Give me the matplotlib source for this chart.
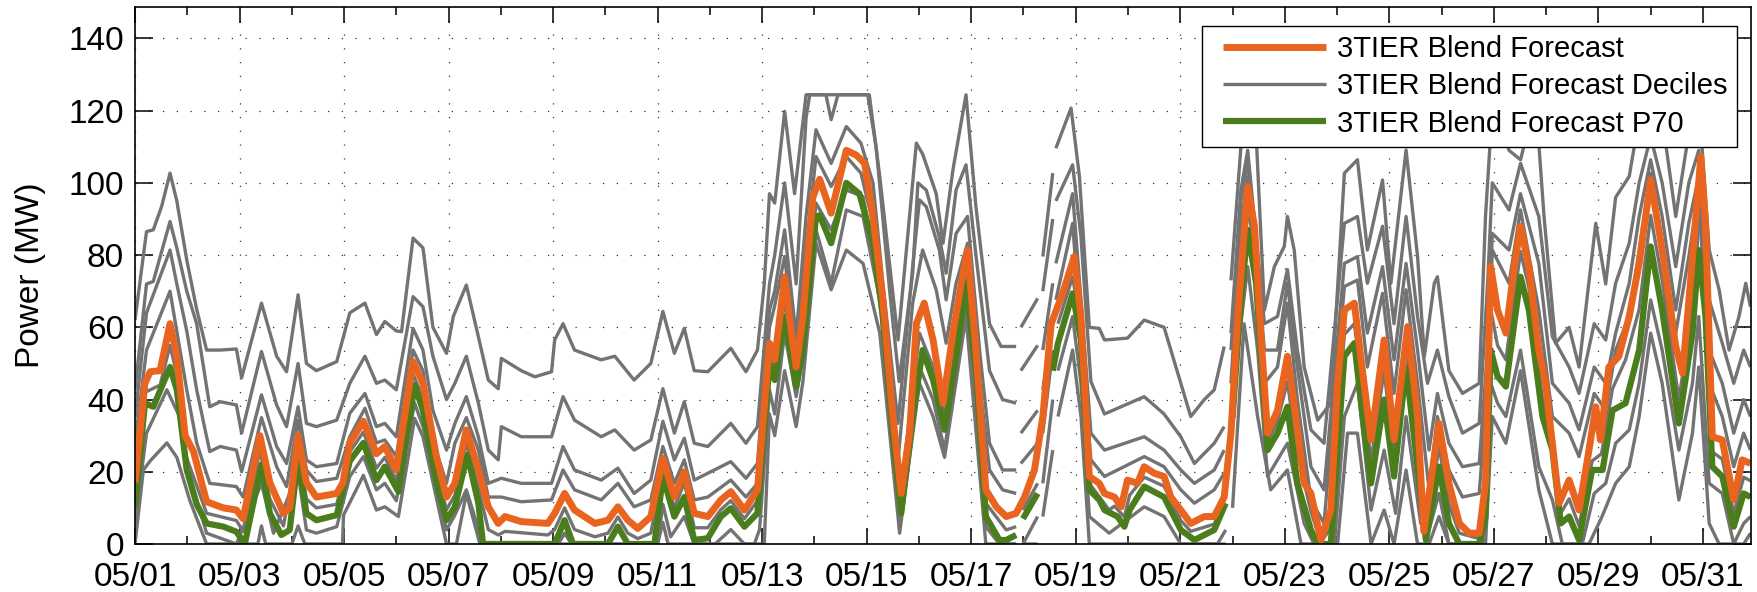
import numpy as np
import matplotlib
matplotlib.use('Agg')
import matplotlib.pyplot as plt
import matplotlib.dates as mdates
from matplotlib.legend_handler import HandlerLine2D
from datetime import datetime

plt.rcParams['font.family'] = ['Liberation Sans', 'DejaVu Sans']

# pontos: (dias desde 05/01 00:00, MW); None = falha nos dados
blend = [(0.0, 17), (0.19, 44.5), (0.29, 47.7), (0.48, 48), (0.67, 61), (0.80, 52), (0.96, 30), (1.12, 25.6),
         (1.37, 11.7), (1.69, 10), (1.94, 9.4), (2.07, 7), (2.39, 30), (2.58, 17), (2.84, 8.5), (2.96, 10),
         (3.12, 30), (3.28, 17), (3.47, 13), (3.86, 14), (3.98, 17), (4.11, 28), (4.37, 34), (4.62, 25),
         (4.78, 27), (5.0, 20.5), (5.32, 50.5), (5.51, 44.5), (5.77, 24), (5.96, 13), (6.12, 16.8), (6.34, 31.6),
         (6.57, 20.5), (6.76, 10.3), (6.95, 5.7), (7.08, 7.6), (7.39, 6.2), (7.90, 5.7), (8.03, 8.5), (8.22, 14),
         (8.41, 9.4), (8.80, 5.7), (9.05, 6.6), (9.24, 10.3), (9.43, 6.6), (9.62, 4.3), (9.87, 7.6), (10.10, 23.7),
         (10.32, 13), (10.51, 20), (10.70, 8.5), (10.96, 7.6), (11.21, 12.2), (11.40, 14.5), (11.66, 9.4),
         (11.91, 15), (12.14, 55.6), (12.24, 51), (12.43, 74), (12.52, 63), (12.65, 49), (12.78, 63), (12.97, 96),
         (13.10, 101), (13.32, 91.6), (13.61, 109), (13.80, 107.7), (13.96, 105.4), (14.12, 90.7), (14.31, 67.6),
         (14.5, 35.3), (14.66, 14), (14.82, 30.7), (14.95, 61), (15.1, 66.7), (15.27, 56.5), (15.46, 39),
         (15.65, 58.4), (15.81, 72.2), (15.93, 81.4), (16.09, 53.7), (16.28, 15), (16.48, 10.3), (16.67, 7.6),
         (16.86, 8.5), (17.02, 13), (17.21, 20.5), (17.37, 35.3), (17.53, 61), (17.75, 69.4), (17.97, 79.6),
         (18.10, 63), (18.26, 18.7), (18.45, 16.8), (18.55, 14), (18.74, 13), (18.87, 10.3), (18.99, 17.7),
         (19.18, 16.8), (19.31, 21.4), (19.50, 19.6), (19.69, 18.7), (19.82, 13), (20.01, 9.4), (20.20, 5.7),
         (20.46, 7.6), (20.65, 7.6), (20.84, 13), (20.97, 30.7), (21.10, 63), (21.29, 99), (21.42, 88),
         (21.54, 58.4), (21.67, 30.7), (21.86, 37), (22.05, 52), (22.21, 35.3), (22.37, 16.8), (22.50, 14),
         (22.69, 1.1), (22.88, 9.4), (23.01, 44.5), (23.14, 64.8), (23.33, 66.7), (23.46, 51), (23.65, 28.8),
         (23.90, 56.5), (24.09, 28.8), (24.35, 60.2), (24.54, 35.3), (24.66, 3.5), (24.80, 18), (24.95, 33.4),
         (25.14, 16.8), (25.34, 5.7), (25.53, 3), (25.72, 3), (25.84, 16.8), (25.94, 76.8), (26.07, 64.8),
         (26.23, 58.4), (26.39, 76.8), (26.51, 88), (26.67, 76.8), (26.86, 53.7), (26.99, 44.5), (27.06, 35.3),
         (27.25, 11.3), (27.44, 17.7), (27.63, 9.4), (27.82, 26), (27.95, 38), (28.04, 28.8), (28.20, 49),
         (28.39, 51.9), (28.59, 63), (28.78, 77.7), (29.0, 100.8), (29.22, 81.4), (29.48, 54.7), (29.61, 47.3),
         (29.76, 72.2), (29.96, 107.3), (30.05, 88.8), (30.18, 29.7), (30.37, 28.8), (30.59, 12.2), (30.75, 23.3),
         (30.91, 22.3)]

p70 = [(0.0, 10.3), (0.19, 39), (0.35, 38), (0.67, 49), (0.80, 42.7), (0.99, 20.5), (1.18, 11), (1.37, 5.7),
       (1.69, 4.8), (1.94, 3.4), (2.10, 0), (2.42, 22), (2.58, 8.5), (2.80, 2.5), (2.96, 3.9), (3.12, 24),
       (3.28, 8.5), (3.47, 6.6), (3.86, 8), (4.11, 23), (4.37, 28), (4.62, 17.7), (4.78, 21.4), (5.04, 14.5),
       (5.35, 44), (5.51, 37), (5.77, 17), (5.96, 6.6), (6.12, 10.3), (6.36, 24.7), (6.57, 11.3), (6.66, 0),
       (8.03, 0), (8.22, 6.6), (8.38, 0), (9.05, 0), (9.24, 4.8), (9.43, 0), (9.94, 0), (10.10, 18.7),
       (10.32, 7.6), (10.51, 13), (10.70, 1.1), (10.96, 1.6), (11.21, 7.6), (11.40, 9.9), (11.66, 4.8),
       (11.91, 8.5), (12.14, 50), (12.24, 45.4), (12.43, 63), (12.65, 43.6), (12.78, 53.7), (13.03, 90.7),
       (13.10, 91), (13.32, 83.3), (13.61, 100), (13.86, 97), (14.12, 83.3), (14.31, 63), (14.5, 30.7),
       (14.66, 8.5), (14.88, 35), (15.07, 53.7), (15.27, 45.4), (15.49, 31.6), (15.71, 51.9), (15.90, 72.2),
       (16.09, 48), (16.28, 7.6), (16.54, 1.1), (16.67, 1.1), (16.86, 2.5), None, (16.99, 7), (17.27, 14), None,
       (17.56, 48), (17.66, 55.6), (17.94, 69.4), (18.10, 56.5), (18.26, 15), (18.45, 12.2), (18.55, 9.4),
       (18.80, 7.6), (18.93, 4.8), (19.03, 9.4), (19.31, 15.9), (19.69, 13), (20.01, 3.9), (20.27, 1.1),
       (20.65, 3.9), (20.87, 11.3), None, (21.0, 35), (21.16, 67.6), (21.29, 87), (21.45, 72.2), (21.67, 26),
       (21.86, 30.7), (22.05, 38), (22.24, 16.8), (22.50, 3.9), (22.63, 0), (22.88, 0), (23.01, 26), (23.14, 52),
       (23.33, 55.6), (23.49, 35.3), (23.65, 16.8), (23.90, 40), (24.09, 18.7), (24.32, 49), (24.54, 21.4),
       (24.70, 1.1), (24.95, 21.4), (25.14, 5.7), (25.34, 0), (25.72, 0), (25.84, 7.6), (25.94, 53.7),
       (26.07, 46.4), (26.23, 43.6), (26.51, 74), (26.67, 64.8), (26.93, 35.3), (27.12, 26), (27.28, 5.7),
       (27.44, 7.6), (27.63, 1.1), (27.88, 20.5), (28.08, 20.5), (28.27, 37), (28.52, 39), (28.78, 53.7),
       (29.0, 82.4), (29.22, 64.8), (29.54, 33.4), (29.80, 58.4), (29.92, 81.4), (30.05, 63), (30.18, 21.4),
       (30.37, 18.7), (30.59, 4.8), (30.78, 14), (30.91, 13)]

p10 = [(0.0, 62), (0.22, 86.5), (0.35, 87), (0.51, 93.5), (0.67, 102.7), (0.80, 95), (0.99, 78.7), (1.18, 65),
       (1.37, 53.7), (1.63, 53.7), (1.94, 54), (2.04, 46), (2.42, 66.7), (2.71, 52), (2.90, 47.7), (3.12, 69),
       (3.28, 50), (3.47, 48), (3.86, 50.5), (4.11, 64), (4.40, 66.7), (4.62, 58), (4.78, 61.6), (5.0, 59),
       (5.10, 58.8), (5.32, 84.7), (5.51, 82), (5.70, 60), (5.96, 52.8), (6.09, 63), (6.34, 71.7), (6.57, 57.4),
       (6.76, 45.4), (6.95, 43), (7.01, 51.4), (7.39, 48), (7.65, 46.3), (7.97, 47.7), (8.03, 56.5), (8.19, 61),
       (8.41, 53.7), (8.92, 51), (9.18, 52), (9.55, 45.4), (9.87, 50), (10.10, 64.4), (10.32, 52.8),
       (10.51, 59.7), (10.70, 48), (10.96, 47.7), (11.40, 54.2), (11.69, 47.7), (11.91, 53.7), (12.04, 72),
       (12.14, 97), (12.24, 94.4), (12.43, 119.8), (12.62, 97), (12.84, 124.4), (14.05, 124.4), (14.25, 101.8),
       (14.60, 56.5), (14.95, 111), (15.07, 108), (15.33, 97), (15.46, 83.3), (15.65, 103.6), (15.90, 124.4),
       (16.09, 93.4), (16.35, 61), (16.57, 54.7), (16.86, 54.7), None, (16.95, 60), (17.27, 68), None,
       (17.37, 79.6), (17.56, 102.7), None, (17.62, 109.6), (17.91, 120.7), (18.07, 101.8), (18.26, 60),
       (18.45, 59.7), (18.55, 56.5), (18.99, 57), (19.31, 62), (19.69, 60), (20.01, 44.5), (20.20, 35.3),
       (20.46, 40), (20.65, 42.7), (20.84, 54.7), None, (20.97, 73), (21.16, 110), (21.29, 123), (21.45, 113.8),
       (21.61, 64.8), (21.80, 76.8), (21.99, 82.4), (22.05, 90.7), (22.18, 81.4), (22.37, 49), (22.63, 34.3),
       (22.88, 39), (23.14, 102.7), (23.39, 106.4), (23.58, 81.4), (23.87, 100.8), (24.03, 72.2), (24.32, 109.1),
       (24.54, 79.6), (24.67, 51.9), (24.86, 72.2), (24.92, 74), (25.14, 48), (25.40, 41.7), (25.72, 44.5),
       (25.84, 90.7), (25.94, 113.8), (26.04, 123), (26.29, 109), (26.51, 106.4), (26.80, 123), (26.96, 90.7),
       (27.18, 55.6), (27.44, 60), (27.63, 49), (27.95, 88.8), (28.14, 72), (28.33, 96), (28.59, 101.8),
       (28.78, 118), (29.0, 124.4), (29.22, 118), (29.48, 90.7), (29.73, 113.8), (29.92, 123), (30.12, 81.4),
       (30.31, 70.4), (30.50, 53.7), (30.69, 63), (30.82, 72.2), (30.91, 65.7)]

p20 = [(0.0, 42.7), (0.22, 72), (0.35, 72.7), (0.67, 89.3), (0.80, 82), (0.99, 70), (1.18, 61), (1.43, 38),
       (1.63, 39.4), (1.94, 38.5), (2.04, 30.7), (2.42, 53.3), (2.71, 38.5), (2.90, 32.5), (3.12, 50),
       (3.28, 33.4), (3.47, 32.5), (3.86, 34.3), (4.11, 44.5), (4.40, 52), (4.62, 44.5), (4.78, 45.4),
       (5.0, 42.7), (5.32, 68.5), (5.51, 65.7), (5.70, 52), (5.96, 40), (6.12, 44.5), (6.34, 52), (6.57, 39),
       (6.76, 26), (6.95, 23.3), (7.01, 32.5), (7.39, 29.7), (7.97, 29.7), (8.19, 40.8), (8.41, 34.3),
       (8.92, 29.7), (9.18, 31.6), (9.55, 26), (9.87, 28.8), (10.10, 43), (10.32, 30.7), (10.51, 39.4),
       (10.70, 27.9), (10.96, 27), (11.40, 33.4), (11.69, 27.9), (11.91, 32.5), (12.14, 72), (12.24, 80),
       (12.43, 100), (12.65, 72), (12.84, 118), (12.91, 124.4), (13.22, 124.4), (13.32, 117.5), (13.45, 124.4),
       (14.02, 124.4), (14.18, 110), (14.44, 70), (14.62, 45), (14.88, 75), (14.98, 100), (15.14, 98),
       (15.39, 85), (15.52, 75), (15.71, 98), (15.90, 105), (16.09, 80), (16.35, 48), (16.60, 40), (16.86, 39),
       None, (16.95, 48), (17.27, 55), None, (17.37, 70), (17.56, 90), None, (17.62, 95), (17.94, 105),
       (18.10, 85), (18.29, 45), (18.55, 36), (19.31, 40.8), (19.69, 36), (20.01, 29.7), (20.27, 22.3),
       (20.65, 27.9), (20.84, 32.5), None, (20.97, 58.4), (21.16, 98), (21.29, 109), (21.61, 61), (21.86, 63),
       (22.05, 76), (22.24, 53.7), (22.50, 31.6), (22.75, 27.9), (23.14, 88.8), (23.39, 90.7), (23.58, 72.2),
       (23.87, 88), (24.09, 61), (24.32, 90.7), (24.54, 63), (24.73, 44.5), (24.92, 53.7), (25.14, 40.8),
       (25.40, 30.7), (25.72, 33.4), (25.88, 72.2), (25.97, 100), (26.29, 92.5), (26.51, 105.4), (26.86, 90.7),
       (27.12, 57.4), (27.44, 49), (27.63, 41.7), (27.92, 61), (28.14, 56.5), (28.33, 72.2), (28.59, 83.3),
       (28.78, 100), (29.0, 112.8), (29.22, 100), (29.48, 76.8), (29.73, 100), (29.92, 109), (30.12, 67.6),
       (30.37, 55.6), (30.59, 44.5), (30.78, 53.7), (30.91, 49)]

p30 = [(0.0, 35), (0.22, 64), (0.67, 81.4), (0.80, 72), (0.99, 59), (1.18, 42.7), (1.43, 25.6), (1.63, 27),
       (1.94, 26), (2.04, 20), (2.42, 41.3), (2.71, 27), (2.90, 22.3), (3.12, 38), (3.28, 23.3), (3.47, 21.4),
       (3.86, 22.3), (4.11, 36.2), (4.40, 41.7), (4.62, 32.5), (4.78, 33.4), (5.0, 29.7), (5.32, 59.7),
       (5.51, 53.7), (5.70, 37), (5.96, 26), (6.12, 33.4), (6.34, 40.8), (6.57, 29.7), (6.76, 16.8),
       (7.01, 18.2), (7.39, 16.8), (7.97, 16.8), (8.19, 27), (8.41, 20.5), (8.92, 17.7), (9.24, 21), (9.55, 14),
       (9.87, 17.7), (10.10, 34), (10.32, 23.3), (10.51, 29.3), (10.70, 17.7), (10.96, 19.6), (11.40, 22.8),
       (11.69, 18.2), (11.91, 22.3), (12.14, 64.8), (12.24, 70), (12.43, 87), (12.65, 57.4), (12.84, 90.7),
       (13.03, 114.7), (13.32, 105.4), (13.61, 115.6), (13.89, 111), (14.12, 100), (14.31, 72.2), (14.60, 33.4),
       (14.88, 76.8), (15.01, 95.3), (15.14, 93.4), (15.39, 81.4), (15.52, 67.6), (15.71, 86), (15.93, 90.7),
       (16.16, 53.7), (16.35, 27.9), (16.60, 20.5), (16.86, 20.5), None, (16.95, 30.7), (17.27, 37), None,
       (17.37, 53.7), (17.56, 72.2), None, (17.62, 77.7), (17.94, 97), (18.10, 67.6), (18.29, 30.7),
       (18.55, 26), (19.31, 29.7), (19.69, 26), (20.01, 20.5), (20.27, 16.8), (20.65, 20.5), (20.84, 26), None,
       (20.97, 53.7), (21.16, 95.3), (21.29, 106.4), (21.61, 53.7), (21.86, 53.7), (22.05, 72.2), (22.24, 49),
       (22.50, 21.4), (22.75, 15), (23.14, 77.7), (23.39, 79.6), (23.58, 58.4), (23.87, 76.8), (24.09, 51),
       (24.32, 77.7), (24.54, 53.7), (24.76, 26), (24.92, 41.7), (25.14, 27.9), (25.40, 21.4), (25.72, 22.3),
       (25.88, 53.7), (25.97, 86), (26.29, 81.4), (26.51, 97), (26.86, 77.7), (27.12, 44.5), (27.44, 39),
       (27.63, 31.6), (27.92, 49), (28.14, 44.5), (28.33, 58.4), (28.59, 72.2), (28.78, 90.7), (29.0, 106.4),
       (29.22, 90.7), (29.48, 64.8), (29.73, 88.8), (29.92, 101.8), (30.12, 53.7), (30.37, 44.5), (30.59, 30.7),
       (30.78, 40), (30.91, 35.3)]

p40 = [(0.0, 28), (0.22, 53.7), (0.67, 70), (0.99, 42.7), (1.18, 28), (1.43, 16.8), (1.94, 15.9), (2.07, 13),
       (2.42, 35), (2.71, 21.4), (2.90, 15.9), (3.12, 34.3), (3.28, 20.5), (3.47, 17.3), (3.86, 18.2),
       (4.11, 29.7), (4.40, 37.6), (4.62, 28), (4.78, 28.8), (5.0, 24.2), (5.32, 53.7), (5.51, 48), (5.70, 28.8),
       (5.96, 16.8), (6.12, 27.9), (6.34, 35), (6.57, 26), (6.76, 13), (7.01, 13), (7.39, 11.7), (7.97, 12.2),
       (8.19, 20.5), (8.41, 15), (8.92, 12.2), (9.24, 16.8), (9.55, 10.3), (9.87, 12.2), (10.10, 27),
       (10.32, 16.8), (10.51, 23.3), (10.70, 12.2), (10.96, 13), (11.40, 17.7), (11.69, 13), (11.91, 16.8),
       (12.14, 60), (12.24, 66), (12.43, 79.6), (12.65, 51.9), (12.84, 81.4), (13.03, 107.3), (13.32, 99),
       (13.61, 107.3), (13.89, 102.7), (14.12, 88.8), (14.34, 58.4), (14.60, 23.3), (14.88, 66.7), (15.07, 81.4),
       (15.33, 70.4), (15.52, 55.6), (15.71, 72.2), (15.93, 83.3), (16.16, 44.5), (16.35, 20.5), (16.60, 15),
       (16.86, 14), None, (16.95, 22.3), (17.27, 27.9), None, (17.37, 42.7), (17.56, 61), None, (17.62, 67.6),
       (17.94, 88.8), (18.10, 58.4), (18.29, 23.3), (18.55, 18.7), (19.31, 24.2), (19.69, 21.4), (20.01, 15),
       (20.27, 11.3), (20.65, 15), (20.84, 19.6), None, (20.97, 44.5), (21.16, 88.8), (21.29, 101.8),
       (21.61, 44.5), (21.86, 49), (22.05, 66.7), (22.24, 40), (22.50, 12.2), (22.75, 5.7), (23.14, 71.3),
       (23.39, 73.1), (23.58, 49), (23.87, 69.4), (24.09, 41.7), (24.32, 70.4), (24.54, 44.5), (24.76, 15),
       (24.92, 35.3), (25.14, 20.5), (25.40, 13), (25.72, 14), (25.88, 44.5), (25.97, 81.4), (26.29, 72.2),
       (26.51, 92.5), (26.86, 64.8), (27.12, 35.3), (27.44, 30.7), (27.63, 24.2), (27.92, 41.7), (28.14, 37),
       (28.33, 53.7), (28.59, 63), (28.78, 81.4), (29.0, 102.7), (29.22, 83.3), (29.48, 58.4), (29.73, 79.6),
       (29.92, 98), (30.12, 44.5), (30.37, 35.3), (30.59, 21.4), (30.78, 30.7), (30.91, 26)]

p60 = [(0.0, 13), (0.19, 42), (0.48, 44), (0.67, 55), (0.80, 47), (0.96, 25), (1.37, 8.5), (1.94, 6.5),
       (2.07, 3.5), (2.39, 26), (2.58, 12.5), (2.84, 5), (3.12, 27), (3.28, 12.5), (3.47, 10), (3.86, 11),
       (4.11, 25.5), (4.37, 31), (4.62, 21), (4.78, 24), (5.0, 17.5), (5.32, 47), (5.51, 40.5), (5.77, 20),
       (5.96, 9.5), (6.12, 13.5), (6.34, 28), (6.57, 15.5), (6.76, 4), (6.95, 2.5), (7.08, 3.5), (7.9, 2.5),
       (8.03, 4), (8.22, 10), (8.41, 4), (8.8, 2), (9.05, 3), (9.24, 7.5), (9.43, 3), (9.62, 1.5), (9.87, 3),
       (10.10, 21), (10.32, 10), (10.51, 17), (10.70, 4.5), (10.96, 4.5), (11.21, 9.5), (11.40, 12), (11.66, 7),
       (11.91, 12), (12.14, 53), (12.24, 48), (12.43, 67.6), (12.65, 46.4), (12.78, 58), (13.03, 94.4),
       (13.32, 87), (13.61, 98), (13.93, 96.2), (14.25, 72.2), (14.63, 12.2), (15.01, 58.4), (15.27, 49),
       (15.49, 35.3), (15.90, 76.8), (16.28, 11.3), (16.67, 3.9), (16.86, 4.8), None, (16.99, 9.4),
       (17.27, 16.8), None, (17.37, 30.7), (17.56, 53.7), None, (17.66, 61), (17.94, 74), (18.10, 60.2),
       (18.26, 16.8), (18.64, 9.4), (18.74, 10.5), (18.93, 7.5), (19.03, 13.5), (19.31, 18.5), (19.69, 16),
       (20.01, 6.5), (20.20, 3.5), (20.65, 5.5), (20.84, 12), None, (20.97, 33), (21.16, 70), (21.29, 93),
       (21.45, 80), (21.67, 28), (21.86, 34), (22.05, 45), (22.24, 25), (22.50, 9), (22.69, 0.5), (22.88, 4.5),
       (23.01, 35), (23.14, 58), (23.33, 61), (23.49, 43), (23.65, 23), (23.90, 48), (24.09, 24), (24.32, 55),
       (24.54, 28), (24.70, 2.5), (24.95, 27), (25.14, 11), (25.34, 3), (25.72, 1.5), (25.84, 12), (25.94, 65),
       (26.07, 55), (26.23, 51), (26.51, 81), (26.67, 71), (26.93, 40), (27.12, 30), (27.28, 8.5), (27.44, 12.5),
       (27.63, 5), (27.88, 23), (28.06, 25), (28.27, 43), (28.52, 51), (28.78, 65), (29.0, 91), (29.22, 73),
       (29.54, 40), (29.80, 65), (29.95, 94), (30.05, 76), (30.18, 25.5), (30.37, 23.5), (30.59, 8.5),
       (30.78, 18.5), (30.91, 17.5)]

p80 = [(0.0, 5.7), (0.22, 30.7), (0.61, 42.7), (0.86, 35), (1.05, 18.7), (1.37, 3), (1.94, 0), (2.42, 16.8),
       (2.65, 3), (3.12, 19.6), (3.28, 3.9), (3.47, 3), (3.86, 4.8), (4.11, 18.7), (4.37, 24.2), (4.62, 15),
       (4.78, 16.8), (5.0, 12), (5.35, 39), (5.51, 32.5), (5.96, 3.9), (6.12, 8), (6.34, 15), (6.66, 0),
       (8.10, 0), (8.22, 3), (8.35, 0), (10.0, 0), (10.10, 11), (10.25, 2), (10.51, 7.6), (10.70, 0), (11.1, 0),
       (11.40, 4), (11.66, 0), (11.85, 0), (11.95, 4), (12.14, 42.7), (12.24, 36), (12.43, 58.4), (12.65, 40.8),
       (12.78, 52), (13.03, 87), (13.32, 72.2), (13.61, 92.5), (13.93, 90.7), (14.25, 67.6), (14.63, 5.7),
       (15.01, 49), (15.27, 40), (15.49, 26), (15.90, 67.6), (16.28, 4.8), (16.54, 0), (16.86, 0), None,
       (16.99, 0), (17.27, 7.6), None, (17.37, 16.8), (17.56, 40), None, (17.66, 48), (17.94, 63), (18.10, 44.5),
       (18.26, 7.6), (18.64, 3), (19.31, 10.3), (19.69, 7.6), (20.01, 0), (20.71, 0), (20.87, 3.9), None,
       (21.10, 53.7), (21.29, 76.8), (21.48, 53.7), (21.67, 18.7), (22.05, 27.9), (22.37, 5.7), (22.56, 0),
       (22.95, 0), (23.14, 35.3), (23.39, 44.5), (23.65, 9.4), (23.90, 26), (24.12, 8.5), (24.32, 35.3),
       (24.60, 5.7), (24.76, 3.9), (24.95, 14), (25.14, 0), (25.78, 0), (25.94, 44.5), (26.07, 39),
       (26.23, 35.3), (26.51, 53.7), (26.86, 21.4), (27.12, 12.2), (27.31, 0), (27.69, 0), (27.92, 14),
       (28.14, 16.8), (28.33, 27.9), (28.59, 31.6), (28.78, 44.5), (29.0, 67.6), (29.22, 53.7), (29.54, 26),
       (29.80, 44.5), (29.92, 63), (30.12, 16.8), (30.37, 14), (30.59, 0), (30.78, 5.7), (30.91, 7.6)]

p90 = [(0.0, 0), (0.16, 20.5), (0.29, 23), (0.61, 28), (0.80, 24), (1.05, 12), (1.37, 0), (2.35, 0), (2.42, 5),
       (2.5, 0), (3.0, 0), (3.12, 5), (3.25, 0), (3.97, 0), (3.99, 8), (4.37, 19), (4.62, 9.4), (4.78, 10.3),
       (5.04, 7.6), (5.35, 34.8), (5.51, 29.7), (5.96, 0), (6.15, 0), (6.34, 14), (6.6, 0), (10.0, 0),
       (10.10, 6), (10.2, 0), (12.04, 0), (12.14, 36), (12.24, 30), (12.43, 48), (12.65, 32.5), (12.78, 45),
       (13.03, 83.3), (13.32, 70.4), (13.61, 81.4), (13.93, 77.7), (14.25, 58.4), (14.63, 3), (15.01, 44.5),
       (15.27, 35.3), (15.49, 24), (15.90, 63), (16.28, 0), (16.86, 0), None, (16.99, 0), (17.27, 0), None,
       (17.37, 7.6), (17.56, 26), None, (17.66, 35.3), (17.94, 53.7), (18.10, 35.3), (18.26, 0), (20.87, 0),
       None, (21.0, 10), (21.22, 61), (21.48, 35.3), (21.73, 15), (22.05, 20.5), (22.31, 0), (23.01, 0),
       (23.20, 30.7), (23.39, 30.7), (23.65, 0), (23.90, 9.4), (24.09, 0), (24.32, 20.5), (24.54, 0),
       (24.76, 0), (24.95, 7.6), (25.14, 0), (25.84, 0), (25.97, 35.3), (26.23, 27.9), (26.51, 48), (26.86, 15),
       (27.12, 0), (27.82, 0), (28.07, 7.6), (28.33, 16.8), (28.59, 21.4), (28.78, 35.3), (29.0, 58.4),
       (29.22, 44.5), (29.54, 12.2), (29.80, 30.7), (29.92, 49), (30.12, 5.7), (30.31, 0), (30.78, 0), (30.91, 3)]

deciles = [p10, p20, p30, p40, p60, p80, p90]

inicio = mdates.date2num(datetime(2012, 5, 1))


def separa(pontos):
    t = [np.nan if p is None else p[0] for p in pontos]
    v = [np.nan if p is None else p[1] for p in pontos]
    return inicio + np.array(t), np.array(v)


cor_laranja = '#E9641F'
cor_verde = '#4A7D1C'
cor_cinza = '#737373'
estilo = dict(solid_joinstyle='round', solid_capstyle='butt')

fig = plt.figure(figsize=(17.57, 5.92), dpi=100)
ax = fig.add_axes([135 / 1757, 48 / 592, 1616 / 1757, 537 / 592])

linhas_cinza = []
for i, d in enumerate(deciles):
    x, y = separa(d)
    l, = ax.plot(x, y, color=cor_cinza, lw=2.4, **estilo)
    linhas_cinza.append(l)

x, y = separa(p70)
l_p70, = ax.plot(x, y, color=cor_verde, lw=4.5, **estilo)
x, y = separa(blend)
l_blend, = ax.plot(x, y, color=cor_laranja, lw=5.0, **estilo)

ax.set_xlim(inicio, inicio + 30.92)
ax.set_ylim(0, 148.7)
ax.set_yticks(range(0, 141, 20))
ax.xaxis.set_major_locator(mdates.DayLocator(bymonthday=range(1, 32, 2)))
ax.xaxis.set_minor_locator(mdates.DayLocator())
ax.xaxis.set_major_formatter(mdates.DateFormatter('%m/%d'))

ax.tick_params(axis='both', which='both', direction='in', top=True, right=True, labelsize=24, width=1.1)
ax.tick_params(axis='x', which='major', length=11.5, pad=13)
ax.tick_params(axis='x', which='minor', length=6)
ax.tick_params(axis='y', which='major', length=13, pad=8)
for s in ax.spines.values():
    s.set_linewidth(1.2)

ax.grid(True, which='major', linestyle=(0, (1, 10)), color='#333333', linewidth=0.9)
ax.set_ylabel('Power (MW)', fontsize=24)
ax.yaxis.set_label_coords(-0.055, 0.5)

handles = [l_blend, linhas_cinza[0], l_p70]
nomes = ['3TIER Blend Forecast', '3TIER Blend Forecast Deciles', '3TIER Blend Forecast P70']
leg = ax.legend(handles, nomes, loc='upper right',
                bbox_to_anchor=(1737 / 1757, 1 - 26 / 592), bbox_transform=fig.transFigure,
                fontsize=21, handlelength=3.97, handletextpad=0.38, borderpad=0.31,
                labelspacing=0.32, borderaxespad=0, fancybox=False, framealpha=1,
                handler_map={l: HandlerLine2D(xpad=0.41) for l in handles})
leg.get_frame().set_edgecolor('black')
leg.get_frame().set_linewidth(1.0)

fig.savefig('out.png', dpi=100)
